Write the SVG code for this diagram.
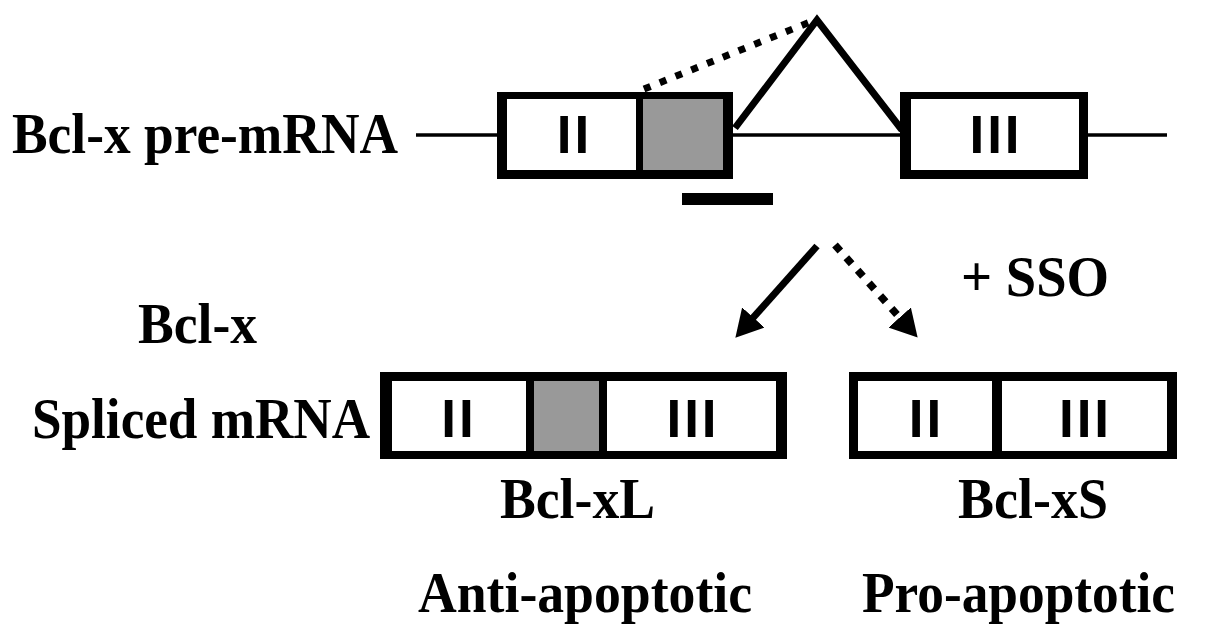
<svg xmlns="http://www.w3.org/2000/svg" width="1205" height="641" viewBox="0 0 1205 641">
  <style>
    .lbl { font-family: "Liberation Serif", "Times New Roman", serif; font-weight: bold; font-size: 56px; fill: #000; }
    .num { font-family: "Liberation Sans", Arial, sans-serif; font-weight: bold; font-size: 53px; letter-spacing: 3px; fill: #000; text-anchor: middle; }
    .frame { fill: #000; }
    .in { fill: #fff; }
    .exon2b { fill: #999; }
    .thin { stroke: #000; stroke-width: 3.5; fill: none; }
    .splice { stroke: #000; stroke-width: 7; fill: none; stroke-linejoin: miter; }
    .dots { stroke: #000; stroke-width: 7; fill: none; stroke-dasharray: 7 10; }
    .arr { stroke: #000; stroke-width: 7; fill: none; }
    .arrdot { stroke: #000; stroke-width: 7.5; fill: none; stroke-dasharray: 8 9; }
  </style>
  <defs>
    <marker id="head" markerUnits="userSpaceOnUse" viewBox="0 0 27 30" markerWidth="27" markerHeight="30" refX="5" refY="15" orient="auto">
      <path d="M0,0 L27,15 L0,30 z" fill="#000"/>
    </marker>
  </defs>
  <rect width="1205" height="641" fill="#fff"/>

  <g id="premrna-label"><text class="lbl" x="12" y="153" textLength="386" lengthAdjust="spacingAndGlyphs">Bcl-x pre-mRNA</text></g>

  <g id="connectors">
    <line class="thin" x1="416" y1="135" x2="499" y2="135"/>
    <line class="thin" x1="731" y1="135" x2="902" y2="135"/>
    <line class="thin" x1="1086" y1="135" x2="1167" y2="135"/>
    <polyline class="splice" points="735,128 817,20 902,130"/>
    <line class="dots" x1="644" y1="89" x2="815" y2="20"/>
    <line class="arr" x1="817" y1="246" x2="750" y2="321.2" marker-end="url(#head)"/>
    <line class="arrdot" x1="835" y1="245" x2="903" y2="321.2" marker-end="url(#head)"/>
  </g>

  <g id="pre-exon2">
    <rect class="frame" x="497" y="92" width="236" height="87"/>
    <rect class="in" x="507" y="99" width="129" height="71"/>
    <rect class="exon2b" x="643" y="99" width="80" height="71"/>
    <text class="num" x="574.5" y="153">II</text>
  </g>

  <g id="pre-exon3">
    <rect class="frame" x="900" y="92" width="188" height="87"/>
    <rect class="in" x="911" y="99" width="168" height="71"/>
    <text class="num" x="996" y="153">III</text>
  </g>

  <g id="sso-bar"><rect x="682" y="193" width="91" height="12" fill="#000"/></g>

  <g id="sso-label"><text class="lbl" x="961" y="296" textLength="148" lengthAdjust="spacingAndGlyphs">+ SSO</text></g>

  <g id="spliced-label">
    <text class="lbl" x="138" y="343" textLength="119" lengthAdjust="spacingAndGlyphs">Bcl-x</text>
    <text class="lbl" x="32" y="438" textLength="338" lengthAdjust="spacingAndGlyphs">Spliced mRNA</text>
  </g>

  <g id="bclxl">
    <rect class="frame" x="380" y="372" width="407" height="87"/>
    <rect class="in" x="392" y="381" width="134" height="70"/>
    <rect class="exon2b" x="534" y="381" width="65" height="70"/>
    <rect class="in" x="607" y="381" width="169" height="70"/>
    <text class="num" x="459" y="437">II</text>
    <text class="num" x="693" y="437">III</text>
  </g>

  <g id="bclxs">
    <rect class="frame" x="849" y="372" width="328" height="87"/>
    <rect class="in" x="858" y="381" width="134" height="70"/>
    <rect class="in" x="1002" y="381" width="165" height="70"/>
    <text class="num" x="926.5" y="437">II</text>
    <text class="num" x="1085.5" y="437">III</text>
  </g>

  <g id="bclxl-label"><text class="lbl" x="500" y="518" textLength="155" lengthAdjust="spacingAndGlyphs">Bcl-xL</text></g>
  <g id="bclxs-label"><text class="lbl" x="958" y="518" textLength="150" lengthAdjust="spacingAndGlyphs">Bcl-xS</text></g>
  <g id="anti-label"><text class="lbl" x="418" y="612" textLength="334" lengthAdjust="spacingAndGlyphs">Anti-apoptotic</text></g>
  <g id="pro-label"><text class="lbl" x="862" y="612" textLength="313" lengthAdjust="spacingAndGlyphs">Pro-apoptotic</text></g>
</svg>
